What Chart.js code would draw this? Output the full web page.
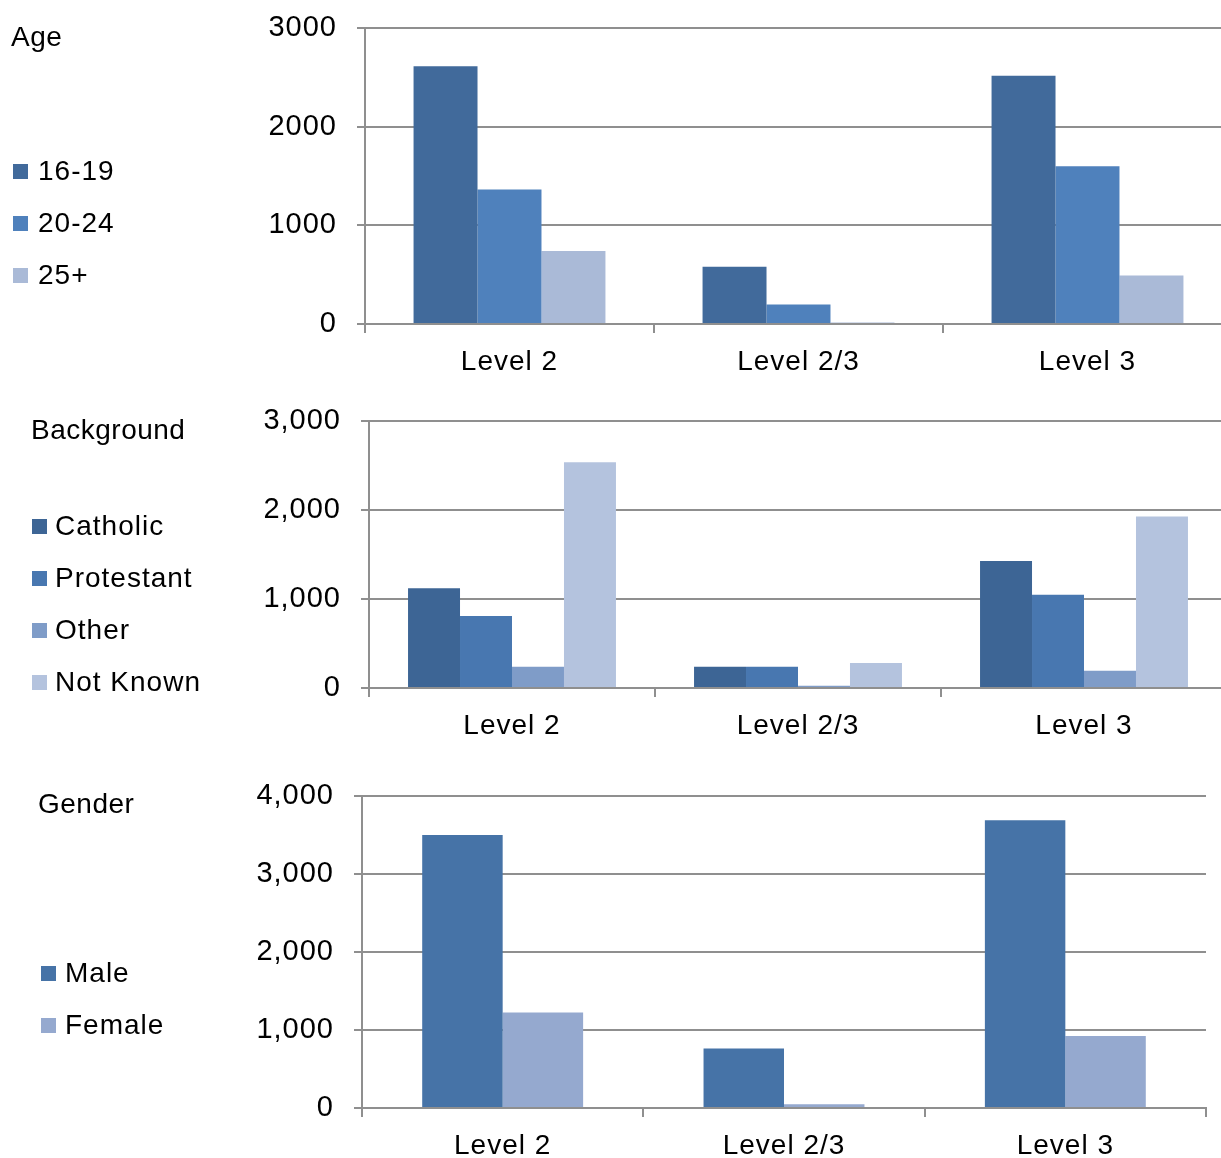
<!DOCTYPE html>
<html>
<head>
<meta charset="utf-8">
<script src="https://cdn.jsdelivr.net/npm/chart.js@4.4.1/dist/chart.umd.min.js"></script>
<style>
  html, body { margin:0; padding:0; background:#fff; width:1221px; height:1158px; overflow:hidden; }
  body { position:relative; font-family:"Liberation Sans", Arial, sans-serif; color:#000; }
  canvas { position:absolute; left:0; }
  .lg { position:absolute; font-size:28px; line-height:28px; letter-spacing:1px; white-space:nowrap; }
  .sq { position:absolute; width:15px; height:15px; }
</style>
</head>
<body>
<canvas id="c1"></canvas>
<canvas id="c2"></canvas>
<canvas id="c3"></canvas>
<div id="legends"></div>
<script>
// ---------- DATA ----------
const categories = ['Level 2', 'Level 2/3', 'Level 3'];

const ageLabels = ['16-19', '20-24', '25+'];
const age1619 = [2615, 582, 2520];
const age2024 = [1366, 198, 1600];
const age25p  = [742, 14, 492];
const ageTickLabels = ['0', '1000', '2000', '3000'];

const bgLabels = ['Catholic', 'Protestant', 'Other', 'Not Known'];
const bgCatholic   = [1122, 240, 1430];
const bgProtestant = [810, 240, 1050];
const bgOther      = [238, 24, 195];
const bgNotKnown   = [2540, 280, 1930];
const bgTickLabels = ['0', '1,000', '2,000', '3,000'];

const genderLabels = ['Male', 'Female'];
const gMale   = [3503, 763, 3693];
const gFemale = [1226, 47, 925];
const gTickLabels = ['0', '1,000', '2,000', '3,000', '4,000'];

// ---------- STYLE ----------
const ageColors = ['#416a9b', '#4f81bc', '#aabad7'];
const bgColors = ['#3d6595', '#4877b0', '#7f9cc8', '#b4c3de'];
const gColors = ['#4673a7', '#95a9cf'];
const gridColor = '#8f8f8f';
const FONT = '"Liberation Sans", Arial, sans-serif';

const spacingPlugin = {
  id: 'spacing',
  beforeUpdate(chart) { chart.ctx.letterSpacing = '1px'; },
  beforeDraw(chart) { chart.ctx.letterSpacing = '1px'; }
};

function makeChart(id, cfg) {
  const cv = document.getElementById(id);
  cv.style.top = cfg.top + 'px';
  cv.style.width = cfg.width + 'px';
  cv.style.height = cfg.height + 'px';
  cv.width = cfg.width; cv.height = cfg.height;
  const datasets = cfg.series.map((s, i) => ({
    label: cfg.labels[i],
    data: s,
    backgroundColor: cfg.colors[i],
    borderWidth: 0,
    barPercentage: 1.0,
    categoryPercentage: cfg.catPct
  }));
  return new Chart(cv, {
    type: 'bar',
    data: { labels: categories, datasets },
    plugins: [spacingPlugin],
    options: {
      responsive: false,
      animation: false,
      devicePixelRatio: 1,
      layout: { padding: { top: cfg.padTop, left: 0, right: cfg.padRight, bottom: 0 } },
      plugins: { legend: { display: false }, tooltip: { enabled: false } },
      scales: {
        x: {
          grid: { display: true, drawOnChartArea: false, drawTicks: true, tickLength: 9,
                  color: gridColor, lineWidth: 2, offset: true },
          border: { display: true, color: gridColor, width: 2 },
          ticks: { color: '#000', font: { family: FONT, size: 28 }, padding: 12, maxRotation: 0 },
          afterFit: (s) => { s.height = 70; }
        },
        y: {
          min: 0, max: cfg.max,
          grid: { color: gridColor, lineWidth: 2, tickLength: 8, drawTicks: true },
          border: { display: true, color: gridColor, width: 2 },
          ticks: { stepSize: 1000, color: '#000', font: { family: FONT, size: 29 }, padding: 20,
                   callback: (v, i) => cfg.tickLabels[i] },
          afterFit: (s) => { s.width = cfg.axisX; }
        }
      }
    }
  });
}

makeChart('c1', { top: -9, width: 1240, height: 403, padTop: 28, padRight: 8, axisX: 365, max: 3000,
  series: [age1619, age2024, age25p], labels: ageLabels, colors: ageColors, catPct: 0.664, tickLabels: ageTickLabels });
makeChart('c2', { top: 384, width: 1235, height: 374, padTop: 28, padRight: 8, axisX: 369, max: 3000,
  series: [bgCatholic, bgProtestant, bgOther, bgNotKnown], labels: bgLabels, colors: bgColors, catPct: 0.727, tickLabels: bgTickLabels });
makeChart('c3', { top: 759, width: 1221, height: 419, padTop: 28, padRight: 15, axisX: 362, max: 4000,
  series: [gMale, gFemale], labels: genderLabels, colors: gColors, catPct: 0.572, tickLabels: gTickLabels });

// ---------- LEGENDS (HTML) ----------
const legendSpecs = [
  { title: 'Age', tx: 11, ty: 37, sqx: 13, textx: 38, ys: [171, 223, 275], labels: ageLabels, colors: ageColors },
  { title: 'Background', tx: 31, ty: 430, sqx: 32, textx: 55, ys: [526, 578, 630, 682], labels: bgLabels, colors: bgColors },
  { title: 'Gender', tx: 38, ty: 804, sqx: 41, textx: 65, ys: [973, 1025], labels: genderLabels, colors: gColors }
];
const host = document.getElementById('legends');
legendSpecs.forEach(sp => {
  const t = document.createElement('div');
  t.className = 'lg'; t.textContent = sp.title;
  t.style.left = sp.tx + 'px'; t.style.top = (sp.ty - 14) + 'px';
  t.style.letterSpacing = '0.5px';
  host.appendChild(t);
  sp.labels.forEach((lab, i) => {
    const sq = document.createElement('div');
    sq.className = 'sq';
    sq.style.left = sp.sqx + 'px'; sq.style.top = (sp.ys[i] - 7) + 'px';
    sq.style.background = sp.colors[i];
    host.appendChild(sq);
    const d = document.createElement('div');
    d.className = 'lg'; d.textContent = lab;
    d.style.left = sp.textx + 'px'; d.style.top = (sp.ys[i] - 14) + 'px';
    host.appendChild(d);
  });
});
</script>
</body>
</html>
